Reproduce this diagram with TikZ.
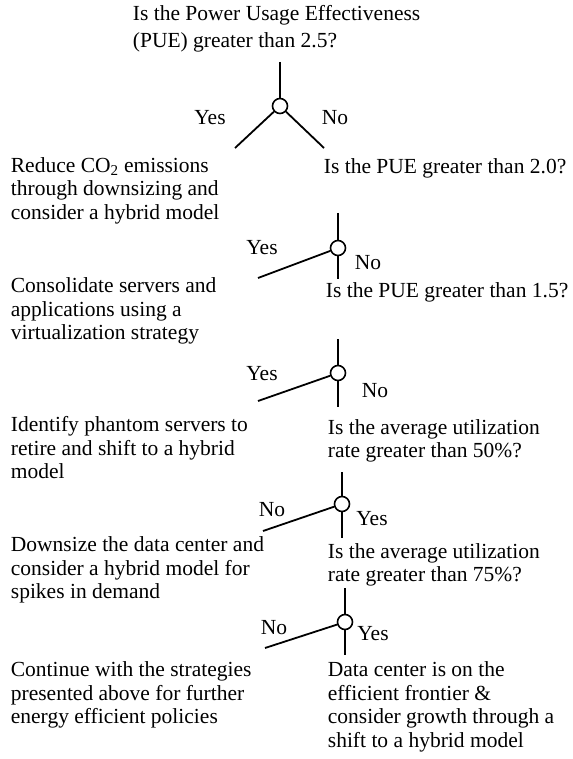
\documentclass[tikz,border=0pt]{standalone}
\usepackage{fontspec}
\setmainfont{Liberation Serif}
\usepackage{tikz}
\usetikzlibrary{positioning}

\begin{document}
\begin{tikzpicture}[
    x=1pt, y=-1pt,
    line width=1.8pt,
    every node/.style={font=\fontsize{21.5}{23.5}\selectfont, inner sep=0pt},
    question/.style={anchor=west, align=left},
    answer/.style={anchor=west, align=left},
    choice/.style={anchor=center},
    fork/.style={circle, draw, line width=1.6pt, minimum size=15pt, fill=white}
]
\useasboundingbox (0,0) rectangle (572,759);

% ========== 第一层：PUE > 2.5 ==========
\node[question, font=\fontsize{21.5}{27}\selectfont] (qtop) at (132,28.5)
    {Is the Power Usage Effectiveness\\(PUE) greater than 2.5?};
\node[fork] (f1) at (280,106) {};
\coordinate (f1top) at (280,62);
\coordinate (f1yes) at (235,148);
\coordinate (f1no) at (324,148);
\draw (f1top) -- (f1);
\draw (f1) -- (f1yes);
\draw (f1) -- (f1no);
\node[choice] (yes1) at (210,118) {Yes};
\node[choice] (no1) at (335,118) {No};

\node[answer] (ans1) at (10,190.5)
    {Reduce CO\textsubscript{2} emissions\\through downsizing and\\consider a hybrid model};
\node[question] (q2) at (323,168) {Is the PUE greater than 2.0?};

% ========== 第二层：PUE > 2.0 ==========
\node[fork] (f2) at (338,248) {};
\coordinate (f2top) at (338,213);
\coordinate (f2yes) at (258,278);
\coordinate (f2no) at (338,279);
\draw (f2top) -- (f2);
\draw (f2) -- (f2yes);
\draw (f2) -- (f2no);
\node[choice] (yes2) at (262,248) {Yes};
\node[choice] (no2) at (368,263) {No};

\node[answer] (ans2) at (10,311)
    {Consolidate servers and\\applications using a\\virtualization strategy};
\node[question] (q3) at (325,292) {Is the PUE greater than 1.5?};

% ========== 第三层：PUE > 1.5 ==========
\node[fork] (f3) at (338,373) {};
\coordinate (f3top) at (338,339);
\coordinate (f3yes) at (258,401);
\coordinate (f3no) at (338,407);
\draw (f3top) -- (f3);
\draw (f3) -- (f3yes);
\draw (f3) -- (f3no);
\node[choice] (yes3) at (262,374) {Yes};
\node[choice] (no3) at (375,391) {No};

\node[answer] (ans3) at (10,448)
    {Identify phantom servers to\\retire and shift to a hybrid\\model};
\node[question] (q4) at (327,441)
    {Is the average utilization\\rate greater than 50\%?};

% ========== 第四层：利用率 > 50% ==========
\node[fork] (f4) at (342,504) {};
\coordinate (f4top) at (342,472);
\coordinate (f4no) at (263,531);
\coordinate (f4yes) at (342,538);
\draw (f4top) -- (f4);
\draw (f4) -- (f4no);
\draw (f4) -- (f4yes);
\node[choice] (no4) at (272,510) {No};
\node[choice] (yes4) at (372,519) {Yes};

\node[answer] (ans4) at (10,570)
    {Downsize the data center and\\consider a hybrid model for\\spikes in demand};
\node[question] (q5) at (327,565)
    {Is the average utilization\\rate greater than 75\%?};

% ========== 第五层：利用率 > 75% ==========
\node[fork] (f5) at (345,622) {};
\coordinate (f5top) at (345,588);
\coordinate (f5no) at (265,648);
\coordinate (f5yes) at (345,655);
\draw (f5top) -- (f5);
\draw (f5) -- (f5no);
\draw (f5) -- (f5yes);
\node[choice] (no5) at (274,628) {No};
\node[choice] (yes5) at (373,634) {Yes};

\node[answer] (ans5) at (10,695)
    {Continue with the strategies\\presented above for further\\energy efficient policies};
\node[answer] (ans6) at (327,707)
    {Data center is on the\\efficient frontier \&\\consider growth through a\\shift to a hybrid model};

\end{tikzpicture}
\end{document}
